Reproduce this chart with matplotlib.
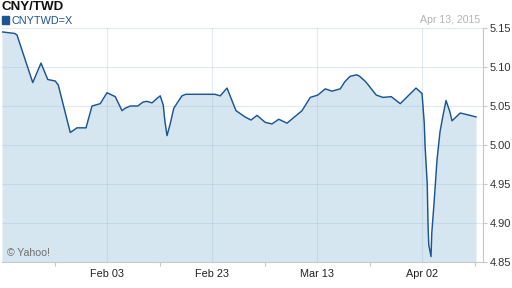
import numpy as np
import matplotlib
matplotlib.use('Agg')
import matplotlib.pyplot as plt
from matplotlib.patches import Rectangle

# trading days since Jan 14, 2015 (weekday index) and CNY/TWD close
days = [0.0, 1.7, 2.0, 4.1, 5.2, 6.1, 7.1, 7.5, 9.1, 10.0, 11.2, 12.0, 13.1,
        14.0, 15.1, 16.0, 16.4, 17.1, 18.1, 18.8, 19.3, 20.0, 20.7, 21.1,
        21.5, 21.7, 22.0, 22.4, 22.9, 23.5, 24.0, 24.5, 28.4, 29.1, 30.0,
        30.7, 31.2, 32.4, 32.8, 33.2, 34.0, 35.1, 36.0, 36.9, 38.0, 40.0,
        41.1, 42.1, 43.1, 44.0, 45.1, 45.7, 46.4, 47.3, 47.7, 48.5, 49.9,
        50.8, 51.9, 53.1, 55.2, 56.0, 56.3, 56.4, 56.7, 56.8, 56.9, 57.2,
        57.3, 57.6, 58.0, 58.4, 58.8, 59.2, 59.7, 60.0, 61.1, 62.4, 63.2]
rate = [5.145, 5.143, 5.141, 5.080, 5.105, 5.084, 5.082, 5.077, 5.016, 5.022,
        5.022, 5.050, 5.053, 5.067, 5.062, 5.044, 5.047, 5.050, 5.050, 5.055,
        5.056, 5.054, 5.060, 5.063, 5.051, 5.032, 5.012, 5.026, 5.047, 5.056,
        5.063, 5.065, 5.065, 5.063, 5.073, 5.056, 5.044, 5.036, 5.034, 5.032,
        5.038, 5.029, 5.027, 5.033, 5.028, 5.044, 5.061, 5.064, 5.072, 5.069,
        5.072, 5.081, 5.088, 5.090, 5.088, 5.081, 5.064, 5.061, 5.062, 5.053,
        5.073, 5.066, 5.028, 5.000, 4.949, 4.897, 4.872, 4.857, 4.887, 4.925,
        4.981, 5.017, 5.038, 5.057, 5.043, 5.031, 5.041, 5.038, 5.036]

major_pos = [14, 28, 42, 56]
major_lab = ['Feb 03', 'Feb 23', 'Mar 13', 'Apr 02']
minor_pos = [7, 21, 35, 49, 63]
yticks = [4.85, 4.90, 4.95, 5.00, 5.05, 5.10, 5.15]

line_col = '#1c5592'
fill_col = '#d6e6f1'
font = 'Liberation Sans'

fig = plt.figure(figsize=(5.12, 2.88), dpi=100)
ax = fig.add_axes([2/512, 26/288, 481/512, 234/288])

ax.fill_between(days, rate, 4.85, color=fill_col, lw=0, zorder=1)
ax.plot(days, rate, color=line_col, lw=1.05, zorder=3)

ax.set_xlim(0, 64.13)
ax.set_ylim(4.85, 5.15)

ax.set_yticks(yticks)
ax.set_yticklabels(['%.2f' % v for v in yticks])
ax.yaxis.tick_right()
ax.set_xticks(major_pos)
ax.set_xticklabels(major_lab)
ax.set_xticks(minor_pos, minor=True)

ax.tick_params(axis='x', which='major', length=0, pad=5, labelsize=7.8,
               labelcolor='#222222')
ax.tick_params(axis='x', which='minor', length=3, width=0.8, color='#c8c8c8')
ax.tick_params(axis='y', length=3, width=0.8, color='#c8c8c8', pad=2,
               labelsize=8, labelcolor='#333333')
for lab in ax.get_xticklabels() + ax.get_yticklabels():
    lab.set_family(font)

ax.grid(True, which='major', color='#9fb8cf', alpha=0.3, lw=0.8, zorder=2)
ax.set_axisbelow(False)
for s in ['top', 'left']:
    ax.spines[s].set_visible(False)
for s in ['bottom', 'right']:
    ax.spines[s].set_color('#c8c8c8')
    ax.spines[s].set_linewidth(0.8)

fig.text(2/512, 1 - 7/288, 'CNY/TWD', fontsize=9.6, fontweight='bold',
         family=font, va='center', ha='left', color='#111111')
fig.patches.append(Rectangle((2/512, 1 - 24/288), 7/512, 8/288,
                             transform=fig.transFigure, color=line_col))
fig.text(12/512, 1 - 20.5/288, 'CNYTWD=X', fontsize=7.8, family=font,
         va='center', ha='left', color=line_col)
fig.text(480/512, 1 - 20/288, 'Apr 13, 2015', fontsize=7.6, family=font,
         va='center', ha='right', color='#b4b4b4')
fig.text(7/512, 1 - 253/288, '\u00a9 Yahoo!', fontsize=7.6, family=font,
         va='center', ha='left', color='#6e6e6e')

fig.savefig('out.png', dpi=100)
